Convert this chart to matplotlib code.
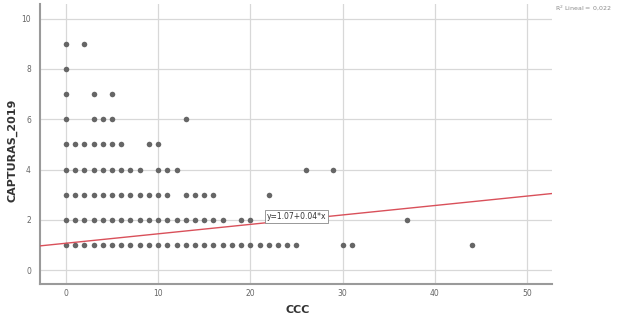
import matplotlib.pyplot as plt

# points per y level (CCC values at each CAPTURAS_2019 value)
rows = {
    9: [0, 2],
    8: [0],
    7: [0, 3, 5],
    6: [0, 3, 4, 5, 13],
    5: [0, 1, 2, 3, 4, 5, 6, 9, 10],
    4: [0, 1, 2, 3, 4, 5, 6, 7, 8, 10, 11, 12, 26, 29],
    3: [0, 1, 2, 3, 4, 5, 6, 7, 8, 9, 10, 11, 13, 14, 15, 16, 22],
    2: [0, 1, 2, 3, 4, 5, 6, 7, 8, 9, 10, 11, 12, 13, 14, 15, 16, 17, 19, 20, 37],
    1: list(range(0, 26)) + [30, 31, 44],
}
intercept = 1.07
slope = 0.0375
fit_label = "y=1.07+0.04*x"
r2_label = "R$^2$ Lineal = 0,022"

xs = []
ys = []
for yv, xl in rows.items():
    for xv in xl:
        xs.append(xv)
        ys.append(yv)

fig = plt.figure(figsize=(6.19, 3.17), dpi=100)
ax = fig.add_axes([40 / 619, 1 - 284 / 317, (552 - 40) / 619, (284 - 3.5) / 317])

ax.set_xlim(-2.8, 52.7)
ax.set_ylim(-0.55, 10.6)
ax.set_xticks([0, 10, 20, 30, 40, 50])
ax.set_yticks([0, 2, 4, 6, 8, 10])
ax.grid(True, color="#d8d8d8", linewidth=0.9)
ax.set_axisbelow(True)

ax.scatter(xs, ys, s=16, color="#666666", zorder=3, linewidths=0)

x0, x1 = ax.get_xlim()
ax.plot([x0, x1], [intercept + slope * x0, intercept + slope * x1],
        color="#d9505a", linewidth=1.0, zorder=4)

ax.text(21.8, 2.13, fit_label, fontsize=5.5, color="#333333", va="center", ha="left",
        bbox=dict(boxstyle="square,pad=0.25", facecolor="white", edgecolor="#888888", linewidth=0.6),
        zorder=5)

for s in ["top", "right"]:
    ax.spines[s].set_visible(False)
for s in ["left", "bottom"]:
    ax.spines[s].set_color("#9a9a9a")
    ax.spines[s].set_linewidth(1.5)

ax.tick_params(axis="y", length=0, labelsize=5.5, labelcolor="#666666", pad=6.5)
ax.tick_params(axis="x", length=0, labelsize=5.5, labelcolor="#666666", pad=3.5)

fig.text(298 / 619, 1 - 310 / 317, "CCC", fontsize=8, fontweight="bold", color="#333333",
         ha="center", va="center")
fig.text(12 / 619, 1 - 150 / 317, "CAPTURAS_2019", fontsize=8, fontweight="bold", color="#333333",
         ha="center", va="center", rotation=90)

fig.text(555 / 619, 1 - 8 / 317, r2_label, fontsize=4.5, color="#8a8a8a", va="center", ha="left")

fig.savefig("out.png", dpi=100)
